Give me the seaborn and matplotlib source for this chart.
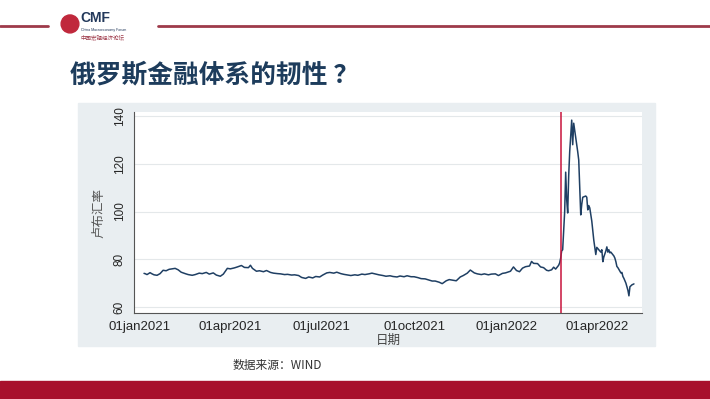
import pandas as pd
import matplotlib.pyplot as plt
import matplotlib.patches as patches
from matplotlib.lines import Line2D
import seaborn as sns

# 卢布汇率 (USD/RUB)
datas = [
    "2021-01-05", "2021-01-06", "2021-01-08", "2021-01-11", "2021-01-13", "2021-01-15", "2021-01-18",
    "2021-01-21", "2021-01-24", "2021-01-27", "2021-01-30", "2021-02-02", "2021-02-05", "2021-02-08",
    "2021-02-11", "2021-02-15", "2021-02-18", "2021-02-22", "2021-02-25", "2021-03-01", "2021-03-04",
    "2021-03-08", "2021-03-11", "2021-03-15", "2021-03-18", "2021-03-22", "2021-03-25", "2021-03-29",
    "2021-04-01", "2021-04-05", "2021-04-08", "2021-04-12", "2021-04-15", "2021-04-19", "2021-04-21",
    "2021-04-23", "2021-04-27", "2021-04-30", "2021-05-04", "2021-05-07", "2021-05-11", "2021-05-14",
    "2021-05-18", "2021-05-21", "2021-05-25", "2021-05-28", "2021-06-01", "2021-06-04", "2021-06-08",
    "2021-06-11", "2021-06-15", "2021-06-18", "2021-06-22", "2021-06-25", "2021-06-29", "2021-07-02",
    "2021-07-06", "2021-07-09", "2021-07-13", "2021-07-16", "2021-07-20", "2021-07-23", "2021-07-27",
    "2021-07-30", "2021-08-03", "2021-08-06", "2021-08-10", "2021-08-13", "2021-08-17", "2021-08-20",
    "2021-08-24", "2021-08-27", "2021-08-31", "2021-09-03", "2021-09-07", "2021-09-10", "2021-09-14",
    "2021-09-17", "2021-09-21", "2021-09-24", "2021-09-28", "2021-10-01", "2021-10-05", "2021-10-08",
    "2021-10-12", "2021-10-15", "2021-10-19", "2021-10-22", "2021-10-26", "2021-10-29", "2021-11-02",
    "2021-11-05", "2021-11-09", "2021-11-12", "2021-11-16", "2021-11-19", "2021-11-23", "2021-11-26",
    "2021-11-30", "2021-12-03", "2021-12-07", "2021-12-10", "2021-12-14", "2021-12-17", "2021-12-21",
    "2021-12-24", "2021-12-28", "2021-12-31", "2022-01-05", "2022-01-08", "2022-01-11", "2022-01-14",
    "2022-01-17", "2022-01-20", "2022-01-24", "2022-01-26", "2022-01-28", "2022-02-01", "2022-02-04",
    "2022-02-07", "2022-02-10", "2022-02-12", "2022-02-15", "2022-02-17", "2022-02-19", "2022-02-22",
    "2022-02-23", "2022-02-24", "2022-02-25", "2022-02-26", "2022-02-28", "2022-03-01", "2022-03-02",
    "2022-03-03", "2022-03-04", "2022-03-05", "2022-03-07", "2022-03-08", "2022-03-09", "2022-03-10",
    "2022-03-11", "2022-03-13", "2022-03-14", "2022-03-15", "2022-03-16", "2022-03-17", "2022-03-18",
    "2022-03-21", "2022-03-22", "2022-03-23", "2022-03-24", "2022-03-25", "2022-03-27", "2022-03-28",
    "2022-03-29", "2022-03-31", "2022-04-01", "2022-04-03", "2022-04-05", "2022-04-06", "2022-04-07",
    "2022-04-08", "2022-04-10", "2022-04-11", "2022-04-12", "2022-04-13", "2022-04-14", "2022-04-15",
    "2022-04-18", "2022-04-19", "2022-04-20", "2022-04-21", "2022-04-22", "2022-04-25", "2022-04-26",
    "2022-04-27", "2022-04-28", "2022-04-30", "2022-05-02", "2022-05-03", "2022-05-04", "2022-05-06",
    "2022-05-08",
]
taxa = [
    74.1, 74.0, 73.6, 74.4, 73.9, 73.5, 73.3,
    74.0, 75.4, 75.2, 75.8, 76.0, 76.2, 75.6,
    74.6, 74.0, 73.6, 73.3, 73.6, 74.2, 74.0,
    74.5, 73.8, 74.3, 73.4, 72.9, 73.8, 76.2,
    76.0, 76.4, 76.8, 77.4, 76.6, 76.5, 77.5,
    76.2, 75.0, 75.2, 74.8, 75.3, 74.5, 74.2,
    74.0, 73.9, 73.6, 73.7, 73.4, 73.5, 73.2,
    72.4, 72.0, 72.6, 72.2, 72.8, 72.6, 73.4,
    74.3, 74.5, 74.2, 74.6, 74.0, 73.7, 73.4,
    73.2, 73.5, 73.3, 73.8, 73.6, 73.9, 74.2,
    73.8, 73.5, 73.2, 72.9, 73.1, 72.8, 72.6,
    73.0, 72.7, 73.1, 72.7, 72.7, 72.3, 71.9,
    71.8, 71.4, 70.9, 70.9, 70.4, 69.8, 71.0,
    71.5, 71.2, 71.0, 72.6, 73.2, 74.2, 75.5,
    74.3, 73.9, 73.6, 73.9, 73.5, 73.8, 73.9,
    73.2, 74.1, 74.3, 75.0, 76.8, 75.3, 74.8,
    76.3, 76.9, 77.2, 79.1, 78.3, 78.2, 76.8,
    76.5, 75.4, 75.2, 75.6, 76.7, 75.9, 77.5,
    78.5, 80.5, 83.5, 84.0, 100.0, 116.5, 105.0,
    99.4, 115.0, 125.0, 138.3, 128.0, 137.0, 134.0,
    131.0, 125.0, 121.6, 110.0, 98.6, 103.0, 106.0,
    106.5, 106.0, 100.7, 102.5, 101.5, 96.0, 92.0,
    88.0, 82.0, 85.0, 84.0, 83.0, 84.0, 79.0,
    81.0, 83.5, 85.2, 83.0, 84.0, 82.7, 83.0,
    81.4, 80.5, 79.0, 77.0, 76.5, 74.3, 74.5,
    72.8, 72.0, 70.0, 67.0, 64.7, 68.5, 69.3,
    69.7,
]
tick_datas = ["2021-01-01", "2021-04-01", "2021-07-01", "2021-10-01", "2022-01-01", "2022-04-01"]
tick_labels = ["01jan2021", "01apr2021", "01jul2021", "01oct2021", "01jan2022", "01apr2022"]
y_ticks = [60, 80, 100, 120, 140]
data_invasao = "2022-02-24"

df = pd.DataFrame({"日期": pd.to_datetime(datas), "卢布汇率": taxa})

sns.set_style("white")
plt.rcParams['font.family'] = ['Liberation Sans', 'Noto Sans CJK SC', 'DejaVu Sans']
cjk = ['Noto Sans CJK SC', 'DejaVu Sans']

fig = plt.figure(figsize=(7.1, 3.99), dpi=100)
fig.patch.set_facecolor('white')

# cabeçalho do slide
fig.add_artist(Line2D([0, 0.068], [0.935, 0.935], color='#9e3a4a', lw=2))
fig.add_artist(Line2D([0.222, 1], [0.935, 0.935], color='#9e3a4a', lw=2))
fig.add_artist(patches.Ellipse((0.0986, 0.94), 0.025, 0.045, transform=fig.transFigure,
                               color='#c0283c', zorder=3))
fig.text(0.113, 0.955, "CMF", fontsize=10, fontweight='bold', color='#23395b', va='center')
fig.text(0.114, 0.925, "China Macroeconomy Forum", fontsize=2.5, color='#23395b', va='center')
fig.text(0.113, 0.905, "中国宏观经济论坛", fontsize=4, color='#9e3a4a', va='center', family=cjk)

# título
fig.text(0.098, 0.812, "俄罗斯金融体系的韧性 ？", fontsize=18.5, fontweight='bold',
         color='#1d3c5c', va='center', family=cjk)

# painel cinza do gráfico
fig.add_artist(patches.Rectangle((0.1099, 0.1328), 0.8127, 0.609, transform=fig.transFigure,
                                 color='#e9eef1', zorder=0))

# faixa vermelha inferior
fig.add_artist(patches.Rectangle((0, 0), 1, 0.045, transform=fig.transFigure,
                                 color='#a8102c', zorder=0))
fig.text(0.327, 0.083, "数据来源：WIND", fontsize=8.5, color='#333333', va='center', family=cjk)

ax = fig.add_axes([0.1887, 0.2155, 0.7155, 0.5038])
ax.set_facecolor('white')
sns.lineplot(data=df, x="日期", y="卢布汇率", color='#1f3f63', lw=1.1, ax=ax)
ax.axvline(pd.to_datetime(data_invasao), color='#c8143c', lw=1.1)

ax.set_ylim(57.5, 141.7)
ax.set_xlim(pd.to_datetime("2020-12-26"), pd.to_datetime("2022-05-16"))
ax.set_yticks(y_ticks)
ax.set_yticklabels([str(v) for v in y_ticks], rotation=90, va='center', fontsize=8.5,
                   family=['Liberation Sans Narrow', 'Liberation Sans'])
ax.set_xticks(pd.to_datetime(tick_datas))
ax.set_xticklabels(tick_labels, fontsize=9.5)
ax.tick_params(axis='both', direction='out', length=4, width=0.8, color='#555555', pad=2)
ax.yaxis.grid(True, color='#e4e8ea', lw=0.8)

ax.set_xlabel("日期", fontsize=9, color='#444444', family=cjk, labelpad=0.5)
ax.set_ylabel("卢布汇率", fontsize=9, color='#555555', family=cjk, labelpad=6)

for s in ['top', 'right']:
    ax.spines[s].set_visible(False)
for s in ['left', 'bottom']:
    ax.spines[s].set_color('#555555')
    ax.spines[s].set_linewidth(0.8)

fig.savefig("out.png", dpi=100, facecolor='white')
